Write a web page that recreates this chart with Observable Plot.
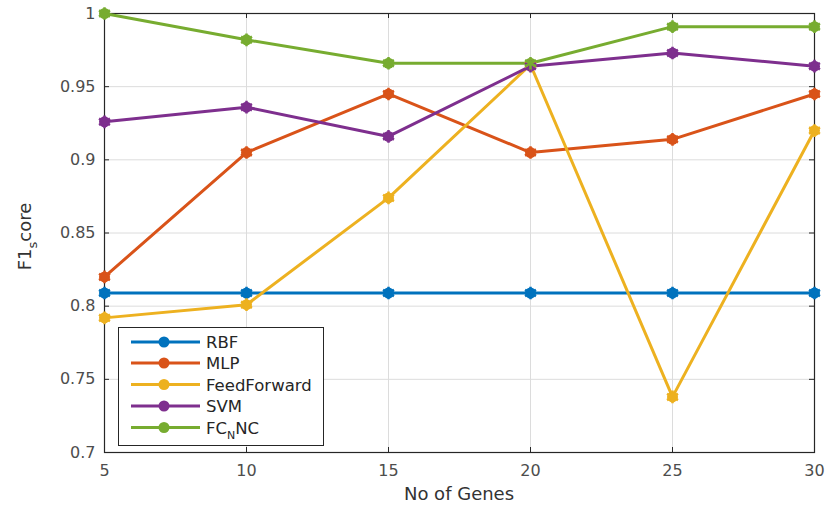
<!DOCTYPE html>
<html><head><meta charset="utf-8">
<script src="https://cdn.jsdelivr.net/npm/d3@7"></script>
<script src="https://cdn.jsdelivr.net/npm/@observablehq/plot@0.6"></script>
<style>
html,body{margin:0;padding:0;background:#fff;}
#chart{position:relative;width:826px;height:506px;}
</style>
</head><body><div id="chart"></div>
<script>
const genes = [5, 10, 15, 20, 25, 30];
const seriesNames = ["RBF", "MLP", "FeedForward", "SVM", "FCNNC"];
const colors = ["#0072BD", "#D95319", "#EDB120", "#7E2F8E", "#77AC30"];
const rbf = [0.809, 0.809, 0.809, 0.809, 0.809, 0.809];
const mlp = [0.820, 0.905, 0.945, 0.905, 0.914, 0.945];
const feedForward = [0.792, 0.801, 0.874, 0.965, 0.738, 0.920];
const svm = [0.926, 0.936, 0.916, 0.964, 0.973, 0.964];
const fcnnc = [1.000, 0.982, 0.966, 0.966, 0.991, 0.991];
const xTicks = [5, 10, 15, 20, 25, 30];
const yTicks = [0.7, 0.75, 0.8, 0.85, 0.9, 0.95, 1];
const yTickLabels = ["0.7", "0.75", "0.8", "0.85", "0.9", "0.95", "1"];

const allSeries = [rbf, mlp, feedForward, svm, fcnnc];
const data = [];
allSeries.forEach((vals, si) => vals.forEach((v, i) => data.push({series: seriesNames[si], x: genes[i], y: v})));

const W = 826, H = 506, mL = 104, mR = 12, mT = 13, mB = 54;
const innerW = W - mL - mR, innerH = H - mT - mB;
const tickLen = 5;
const dxT = tickLen / innerW * 25, dyT = tickLen / innerH * 0.3;

const font = "'DejaVu Sans', sans-serif";
const plot = Plot.plot({
  width: W, height: H,
  marginLeft: mL, marginRight: mR, marginTop: mT, marginBottom: mB,
  style: {fontFamily: font, fontSize: "16px", color: "#4d4d4d", background: "#fff"},
  x: {domain: [5, 30], ticks: xTicks},
  y: {domain: [0.7, 1], ticks: yTicks},
  color: {domain: seriesNames, range: colors},
  marks: [
    Plot.gridX(xTicks, {stroke: "#dcdcdc", strokeOpacity: 1}),
    Plot.gridY(yTicks, {stroke: "#dcdcdc", strokeOpacity: 1}),
    Plot.axisX(xTicks, {tickSize: 0, tickPadding: 12, fontSize: 16, fill: "#4d4d4d", label: null}),
    Plot.axisY(yTicks, {tickSize: 0, tickPadding: 9, fontSize: 16, fill: "#4d4d4d", label: null, tickFormat: d => yTickLabels[yTicks.indexOf(d)]}),
    Plot.ruleY(yTicks, {y: d => d, x1: 5, x2: 5 + dxT, stroke: "#262626"}),
    Plot.ruleY(yTicks, {y: d => d, x1: 30 - dxT, x2: 30, stroke: "#262626"}),
    Plot.ruleX(xTicks, {x: d => d, y1: 0.7, y2: 0.7 + dyT, stroke: "#262626"}),
    Plot.ruleX(xTicks, {x: d => d, y1: 1 - dyT, y2: 1, stroke: "#262626"}),
    Plot.frame({stroke: "#262626", strokeWidth: 1.2}),
    Plot.line(data, {x: "x", y: "y", z: "series", stroke: "series", strokeWidth: 3}),
    Plot.dot(data, {x: "x", y: "y", fill: "series", r: 5.5}),
    Plot.dot(data, {x: "x", y: "y", stroke: "series", symbol: "asterisk", r: 6, strokeWidth: 2.5})
  ]
});
document.getElementById("chart").appendChild(plot);

const svg = d3.select(plot);
// axis labels
svg.append("text").attr("x", mL + innerW / 2).attr("y", 500).attr("text-anchor", "middle")
  .attr("font-family", font).attr("font-size", 18).attr("fill", "#333").text("No of Genes");
const yl = svg.append("text").attr("transform", `translate(31,${mT + innerH / 2 + 4}) rotate(-90)`)
  .attr("text-anchor", "middle").attr("font-family", font).attr("font-size", 18).attr("fill", "#333");
yl.append("tspan").text("F1");
yl.append("tspan").attr("dy", 6).attr("font-size", 13).text("s");
yl.append("tspan").attr("dy", -6).text("core");

// legend
const lg = svg.append("g").attr("text-anchor", "start");
lg.append("rect").attr("x", 118.5).attr("y", 327.5).attr("width", 205).attr("height", 118)
  .attr("fill", "#fff").attr("stroke", "#262626").attr("stroke-width", 1);
const rowsY = [342, 363, 384.5, 406, 427.5];
seriesNames.forEach((name, i) => {
  const y = rowsY[i];
  lg.append("line").attr("x1", 131).attr("x2", 200).attr("y1", y).attr("y2", y)
    .attr("stroke", colors[i]).attr("stroke-width", 3);
  lg.append("circle").attr("cx", 164).attr("cy", y).attr("r", 5.5).attr("fill", colors[i]);
  const t = lg.append("text").attr("x", 206).attr("y", y + 6).attr("font-family", font)
    .attr("font-size", 16.5).attr("fill", "#262626").attr("text-anchor", "start");
  if (name === "FCNNC") {
    t.append("tspan").text("FC");
    t.append("tspan").attr("dy", 5).attr("font-size", 11).text("N");
    t.append("tspan").attr("dy", -5).text("NC");
  } else {
    t.text(name);
  }
});
</script>
</body></html>
